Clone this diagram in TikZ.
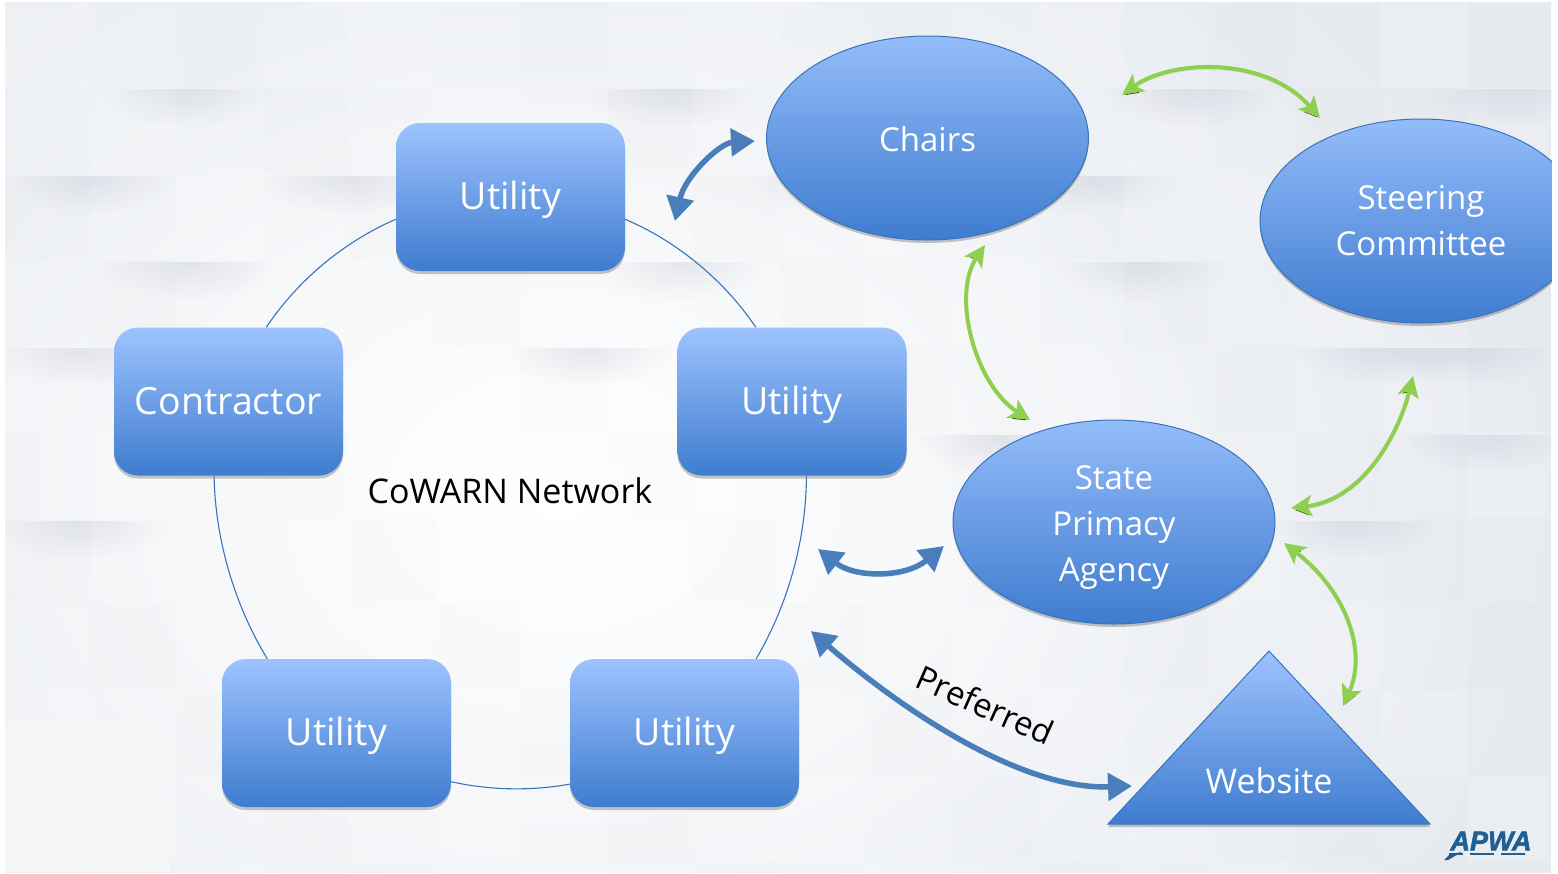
\documentclass[tikz,border=0pt]{standalone}
\usepackage{fontspec}
\setmainfont{Open Sans}
\newfontfamily\logofont[FakeBold=2]{Liberation Sans}
\usepackage{xcolor}
\usetikzlibrary{arrows.meta,shapes.geometric,shadows,fadings}
\definecolor{paper}{HTML}{E7EBF0}
\definecolor{shapetop}{HTML}{9DC3FF}
\definecolor{shapebot}{HTML}{3F7CCF}
\definecolor{shapeline}{HTML}{3A74B8}
\definecolor{flowblue}{HTML}{4A7EBB}
\definecolor{flowgreen}{HTML}{8FCF4F}
\definecolor{logoblue}{HTML}{1F5F93}
\tikzfading[name=streakfade, inner color=transparent!0, outer color=transparent!100]
\tikzset{
	softshadow/.style={drop shadow={shadow xshift=0pt, shadow yshift=-3pt, fill=black, opacity=0.22}},
	orgbox/.style={draw=none, rounded corners=24pt, minimum width=229pt, minimum height=148pt, inner sep=0pt,
		top color=shapetop, bottom color=shapebot, text=white, softshadow, text height=32pt, text depth=7pt,
		font=\fontsize{37.5}{37.5}\selectfont},
	orgoval/.style={ellipse, draw=shapeline, line width=1pt, minimum width=322pt, minimum height=204pt, inner sep=0pt, align=center,
		top color=shapetop!90!shapebot, bottom color=shapebot, text=white, softshadow, font=\fontsize{33}{46}\selectfont},
	ringline/.style={draw=shapeline, line width=1.1pt, looseness=0.85},
	blueflow/.style={draw=flowblue, line width=5.5pt, {Triangle[length=24pt,width=27pt]}-{Triangle[length=24pt,width=27pt]},
		preaction={draw=black, draw opacity=0.15, transform canvas={yshift=-2.5pt}}},
	greenflow/.style={draw=flowgreen, line width=4pt, {Stealth[length=21pt,width=21pt,inset=5pt]}-{Stealth[length=21pt,width=21pt,inset=5pt]},
		preaction={draw=black, draw opacity=0.13, transform canvas={yshift=-2.5pt}}},
	plainlabel/.style={text=black, font=\fontsize{34}{34}\selectfont}
}
\newcommand{\streak}[2]{
	\begin{scope}
		\clip (#1-90,#2) rectangle (#1+90,#2+45);
		\fill[black!70!blue, opacity=0.07, path fading=streakfade] (#1,#2) ellipse (90 and 40);
	\end{scope}
}
\begin{document}
\begin{tikzpicture}[x=1pt,y=-1pt]
	\useasboundingbox (0,0) rectangle (1558,873);
	\fill[white] (0,0) rectangle (1558,873);
	\begin{scope}
		\clip (5,2) rectangle (1551,872);
		\shade[inner color=white, outer color=paper] (-440,-260) rectangle (1560,1260);
		\foreach \i in {0,...,17} {
			\foreach \j in {0,...,10} {
				\pgfmathtruncatemacro{\odd}{mod(\i*3+\j*5,4)}
				\ifnum\odd=0
					\fill[white, opacity=0.16] (5+\i*86,2+\j*86) rectangle (91+\i*86,88+\j*86);
				\fi
				\ifnum\odd=2
					\fill[black, opacity=0.008] (5+\i*86,2+\j*86) rectangle (91+\i*86,88+\j*86);
				\fi
			}
		}
		\foreach \sx/\sy in {185/89,670/89,1190/89,1510/89,90/176,345/176,830/176,1090/176,190/262,680/262,1140/262,80/348,590/348,1380/348,1470/348,1000/435,1490/435,80/521,1350/521}
			\streak{\sx}{\sy}
		\fill[white, opacity=0.1] (5,727) rectangle (170,872);
	\end{scope}
	\node[orgbox] (utilitytop) at (510.5,197) {Utility};
	\node[orgbox] (contractor) at (228.5,401.5) {Contractor};
	\node[orgbox] (utilityright) at (792,401.5) {Utility};
	\node[orgbox] (utilityleft) at (336.5,733) {Utility};
	\node[orgbox] (utilitybottom) at (684.5,733) {Utility};
	\draw[ringline] (utilitytop.191.4) to[bend right=16.6] (contractor.63.4);
	\draw[ringline] (contractor.259.4) to[bend right=15.2] (utilityleft.133.4);
	\draw[ringline] (utilityleft.-23.9) to[bend right=11.5] (utilitybottom.204.1);
	\draw[ringline] (utilitybottom.46.1) to[bend right=15.2] (utilityright.-79.4);
	\draw[ringline] (utilityright.116.6) to[bend right=16.6] (utilitytop.-11.3);
	\node[plainlabel] (network) at (510,491) {CoWARN Network};
	\node[orgoval] (chairs) at (927.5,138) {\rule{0pt}{28pt}Chairs};
	\node[orgoval] (steering) at (1421,221) {Steering\\Committee};
	\node[orgoval] (state) at (1114,522) {\rule{0pt}{34pt}State\\Primacy\\Agency};
	\shade[draw=shapeline, line width=1pt, top color=shapetop, bottom color=shapebot, softshadow]
		(1269,651) -- (1430,824) -- (1108,824) -- cycle;
	\node[text=white, font=\fontsize{34}{34}\selectfont] (website) at (1269,781) {Website};
	\node[plainlabel, rotate=-24, font=\fontsize{33}{33}\selectfont] (preferred) at (985,705) {Preferred};
	\coordinate (topflow) at ([shift={(164.5,24)}]utilitytop.center);
	\coordinate (chairsflow) at ([shift={(-172.5,3)}]chairs.center);
	\coordinate (rightflow) at ([shift={(26,147.5)}]utilityright.center);
	\coordinate (stateflow) at ([shift={(-170,24)}]state.center);
	\coordinate (bottomflow) at ([shift={(126.5,-102)}]utilitybottom.center);
	\coordinate (websiteflow) at (1132,786);
	\coordinate (chairsgreen) at ([shift={(194.5,-43)}]chairs.center);
	\coordinate (steeringgreen) at ([shift={(-101,-103)}]steering.center);
	\coordinate (chairslow) at ([shift={(57.5,107)}]chairs.center);
	\coordinate (statetop) at ([shift={(-84,-102)}]state.center);
	\coordinate (stateright) at ([shift={(177,-14)}]state.center);
	\coordinate (steeringlow) at ([shift={(-8,155)}]steering.center);
	\coordinate (statelow) at ([shift={(170,21)}]state.center);
	\coordinate (websitetop) at (1343,706);
	\draw[blueflow] (topflow) .. controls +(10,-45) and +(-35,2) .. (chairsflow);
	\draw[blueflow] (rightflow) .. controls +(37,29) and +(-39,32) .. (stateflow);
	\draw[blueflow] (bottomflow) .. controls +(89,77) and +(-112,4) .. (websiteflow);
	\draw[greenflow] (chairsgreen) .. controls +(48,-35) and +(-55,-63) .. (steeringgreen);
	\draw[greenflow] (chairslow) .. controls +(-34,50) and +(-55,-35) .. (statetop);
	\draw[greenflow] (stateright) .. controls +(74,-8) and +(-13,54) .. (steeringlow);
	\draw[greenflow] (statelow) .. controls +(61,47) and +(25,-56) .. (websitetop);
	\fill[white] (1552,0) rectangle (1558,873);
	\node[text=logoblue, inner sep=0pt, font=\logofont\bfseries\itshape\fontsize{27}{27}\selectfont] (logo) at (1491,841) {APWA};
	\draw[logoblue, line width=2pt, dash pattern=on 24pt off 7pt, dash phase=10pt] (1449,854) -- (1530,854);
	\fill[logoblue] (1450,854) -- (1462,852) -- (1448,860) -- (1444,860) -- cycle;
\end{tikzpicture}
\end{document}
